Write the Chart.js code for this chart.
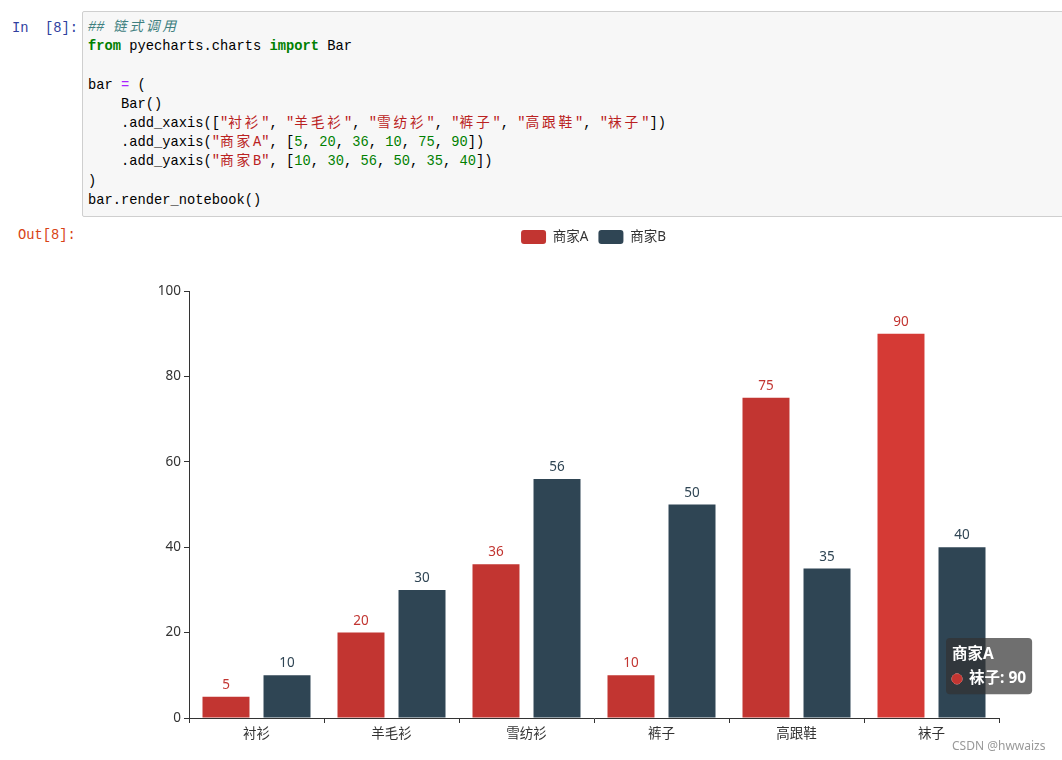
<!DOCTYPE html>
<html><head><meta charset="utf-8">
<script src="https://cdn.jsdelivr.net/npm/chart.js@4"></script>
<style>
html,body{margin:0;padding:0;background:#fff;width:1062px;height:760px;overflow:hidden;position:relative;}
.prompt{position:absolute;font-family:'Liberation Mono',monospace;font-size:13.75px;line-height:19.2px;white-space:pre;}
#inp{left:12px;top:19px;color:#303F9F;}
#outp{left:18px;top:226px;color:#D84315;}
#cell{position:absolute;left:82px;top:11px;width:990px;height:204px;background:#f7f7f7;border:1px solid #cfcfcf;border-radius:2px;}
pre{margin:0;position:absolute;left:5px;top:6px;font-family:'Liberation Mono',monospace;font-size:13.75px;line-height:19.2px;color:#000;}
.c{color:#408080;font-style:italic}
.k{color:#008000;font-weight:bold}
.o{color:#AA22FF}
.s{color:#BA2121}
.n{color:#008000}
.z{letter-spacing:2.75px;font-family:'Noto Sans CJK SC',sans-serif;line-height:1;}
#wrap{position:absolute;left:0;top:220px;width:1062px;height:540px;}
#wm{position:absolute;left:952px;top:737px;font-family:'Noto Sans','Noto Sans CJK SC',sans-serif;font-size:12px;color:#999;}
</style></head>
<body>
<div id="inp" class="prompt">In  [8]:</div>
<div id="cell"><pre><span class="c">## <span class="z">链式调用</span></span>
<span class="k">from</span> pyecharts.charts <span class="k">import</span> Bar

bar <span class="o">=</span> (
    Bar()
    .add_xaxis([<span class="s">"<span class="z">衬衫</span>"</span>, <span class="s">"<span class="z">羊毛衫</span>"</span>, <span class="s">"<span class="z">雪纺衫</span>"</span>, <span class="s">"<span class="z">裤子</span>"</span>, <span class="s">"<span class="z">高跟鞋</span>"</span>, <span class="s">"<span class="z">袜子</span>"</span>])
    .add_yaxis(<span class="s">"<span class="z">商家</span>A"</span>, [<span class="n">5</span>, <span class="n">20</span>, <span class="n">36</span>, <span class="n">10</span>, <span class="n">75</span>, <span class="n">90</span>])
    .add_yaxis(<span class="s">"<span class="z">商家</span>B"</span>, [<span class="n">10</span>, <span class="n">30</span>, <span class="n">56</span>, <span class="n">50</span>, <span class="n">35</span>, <span class="n">40</span>])
)
bar.render_notebook()</pre></div>
<div id="outp" class="prompt">Out[8]:</div>
<div id="wrap"><canvas id="c"></canvas></div>
<div id="wm">CSDN @hwwaizs</div>
<script>
const categories = ["衬衫", "羊毛衫", "雪纺衫", "裤子", "高跟鞋", "袜子"];
const seriesNames = ["商家A", "商家B"];
const seriesA = [5, 20, 36, 10, 75, 90];
const seriesB = [10, 30, 56, 50, 35, 40];
const yTicks = [0, 20, 40, 60, 80, 100];

const FONT = "'Noto Sans', 'Noto Sans CJK SC', sans-serif";
const colA = '#c23531', colB = '#2f4554';

Chart.Tooltip.positioners.fixedPos = function () {
  const ca = this.chart.chartArea;
  return { x: ca.right - 49, y: ca.top + 347 };
};

const legendSpace = {
  id: 'legendSpace',
  beforeInit(chart) {
    const orig = chart.legend.fit;
    chart.legend.fit = function () { orig.bind(chart.legend)(); this.height += 37; };
  },
  afterLayout(chart) {
    chart.legend.left += 94;
    chart.legend.right += 94;
  }
};

const valueLabels = {
  id: 'valueLabels',
  afterDatasetsDraw(chart) {
    const ctx = chart.ctx;
    ctx.save();
    ctx.font = '13.5px ' + FONT;
    ctx.textAlign = 'center';
    ctx.textBaseline = 'bottom';
    chart.data.datasets.forEach((ds, i) => {
      chart.getDatasetMeta(i).data.forEach((el, j) => {
        ctx.fillStyle = ds.labelColor;
        ctx.fillText(String(ds.data[j]), el.x, el.y - 5);
      });
    });
    ctx.restore();
  }
};

const chart = new Chart(document.getElementById('c'), {
  type: 'bar',
  data: {
    labels: categories,
    datasets: [
      { label: seriesNames[0], data: seriesA, backgroundColor: colA, hoverBackgroundColor: '#d53a35', labelColor: colA,
        categoryPercentage: 0.904, barPercentage: 0.77 },
      { label: seriesNames[1], data: seriesB, backgroundColor: colB, hoverBackgroundColor: '#3a5566', labelColor: colB,
        categoryPercentage: 0.904, barPercentage: 0.77 }
    ]
  },
  options: {
    responsive: true,
    maintainAspectRatio: false,
    animation: false,
    events: [],
    layout: { padding: { left: 0, right: 63, top: 0, bottom: 0 } },
    plugins: {
      legend: {
        position: 'top',
        labels: {
          boxWidth: 25, boxHeight: 14, padding: 10, color: '#333',
          useBorderRadius: true, borderRadius: 3,
          font: { family: FONT, size: 13.5 }
        }
      },
      tooltip: {
        enabled: true,
        position: 'fixedPos',
        xAlign: 'left', yAlign: 'top',
        caretSize: 0, caretPadding: 0, cornerRadius: 4,
        backgroundColor: 'rgba(50,50,50,0.7)',
        padding: { left: 6, right: 6, top: 7, bottom: 6 },
        titleColor: '#fff', bodyColor: '#fff',
        titleFont: { family: FONT, size: 15.5, weight: 'bold' },
        bodyFont: { family: FONT, size: 15.5, weight: 'bold' },
        titleMarginBottom: 6,
        usePointStyle: true, boxWidth: 10, boxHeight: 10, boxPadding: 5,
        callbacks: {
          title: items => items[0].dataset.label,
          label: item => item.label + ': ' + item.raw,
          labelColor: item => ({ borderColor: item.dataset.backgroundColor, backgroundColor: item.dataset.backgroundColor }),
          labelPointStyle: () => ({ pointStyle: 'circle', rotation: 0 })
        }
      }
    },
    scales: {
      x: {
        grid: { display: true, drawOnChartArea: false, drawTicks: true, tickLength: 5, color: '#333', offset: true },
        border: { display: true, color: '#333', width: 1 },
        ticks: { color: '#333', padding: 3, font: { family: FONT, size: 13.5 } },
        afterFit(s) { s.height = 42; }
      },
      y: {
        min: 0, max: 100,
        afterBuildTicks(s) { s.ticks = yTicks.map(v => ({ value: v })); },
        grid: { display: true, drawOnChartArea: false, drawTicks: true, tickLength: 5, color: '#333' },
        border: { display: true, color: '#333', width: 1 },
        ticks: { color: '#333', padding: 3, font: { family: FONT, size: 13.5 } },
        afterFit(s) { s.width = 189; }
      }
    }
  },
  plugins: [legendSpace, valueLabels]
});

chart.setActiveElements([{ datasetIndex: 0, index: 5 }]);
chart.tooltip.setActiveElements([{ datasetIndex: 0, index: 5 }], { x: 0, y: 0 });
chart.update('none');
</script>
</body></html>
